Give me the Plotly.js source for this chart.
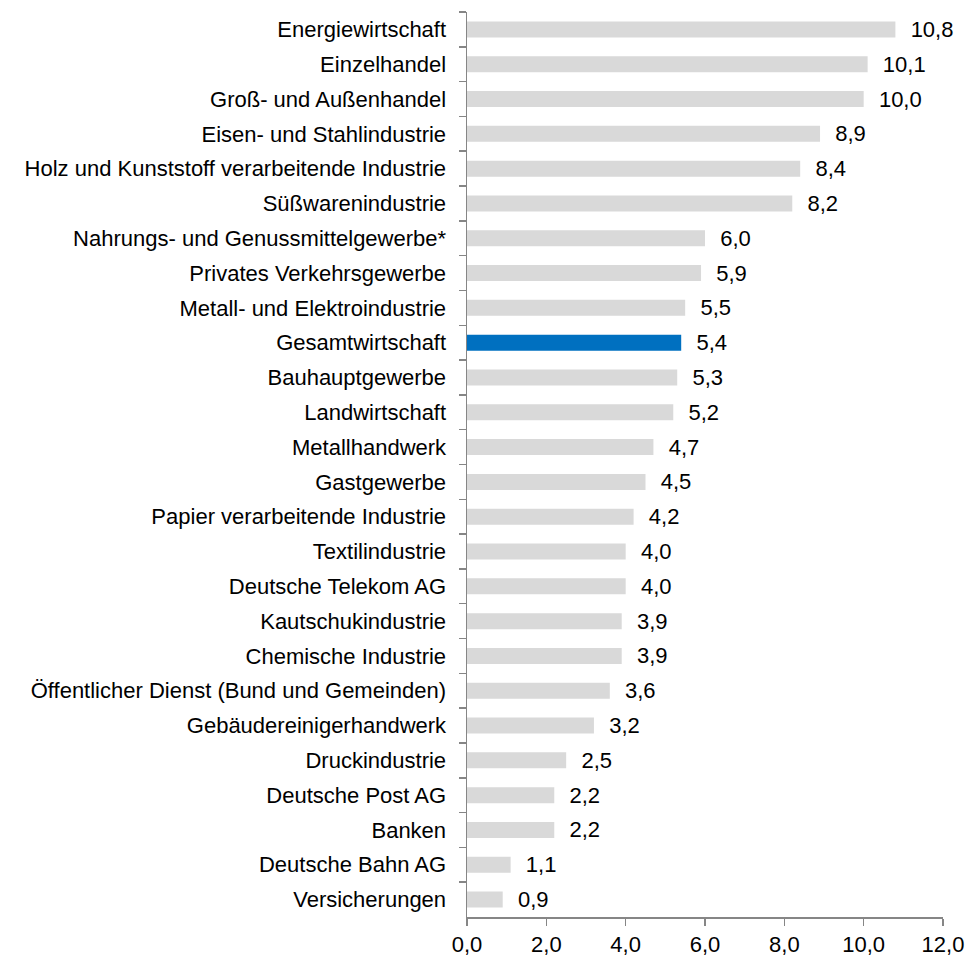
<!DOCTYPE html>
<html>
<head>
<meta charset="utf-8">
<script src="https://cdn.plot.ly/plotly-3.0.1.min.js"></script>
<style>html,body{margin:0;padding:0;background:#fff;}#chart{width:965px;height:963px;}</style>
</head>
<body>
<div id="chart"></div>
<script>
const categories = [
  "Energiewirtschaft","Einzelhandel","Groß- und Außenhandel","Eisen- und Stahlindustrie",
  "Holz und Kunststoff verarbeitende Industrie","Süßwarenindustrie","Nahrungs- und Genussmittelgewerbe*",
  "Privates Verkehrsgewerbe","Metall- und Elektroindustrie","Gesamtwirtschaft","Bauhauptgewerbe",
  "Landwirtschaft","Metallhandwerk","Gastgewerbe","Papier verarbeitende Industrie","Textilindustrie",
  "Deutsche Telekom AG","Kautschukindustrie","Chemische Industrie","Öffentlicher Dienst (Bund und Gemeinden)",
  "Gebäudereinigerhandwerk","Druckindustrie","Deutsche Post AG","Banken","Deutsche Bahn AG","Versicherungen"
];
const values = [10.8,10.1,10.0,8.9,8.4,8.2,6.0,5.9,5.5,5.4,5.3,5.2,4.7,4.5,4.2,4.0,4.0,3.9,3.9,3.6,3.2,2.5,2.2,2.2,1.1,0.9];
const highlight = "Gesamtwirtschaft";
const tickValues = [0,2,4,6,8,10,12];

const colors = categories.map(c => c === highlight ? "#0070c0" : "#d9d9d9");
const FONT = "Liberation Sans Narrow, Arial Narrow, Liberation Sans, Arial, sans-serif";
const FS = 22;

const trace = {
  type: "bar",
  orientation: "h",
  y: categories,
  x: values,
  marker: {color: colors},
  texttemplate: "  %{x:.1f}",
  textposition: "outside",
  constraintext: "none",
  cliponaxis: false,
  textfont: {family: FONT, size: FS, color: "#000"},
  hoverinfo: "none"
};

const layout = {
  width: 965, height: 963,
  margin: {l: 467, r: 22, t: 12, b: 46},
  separators: ",.",
  paper_bgcolor: "#fff", plot_bgcolor: "#fff",
  bargap: 0.54,
  showlegend: false,
  font: {family: FONT, size: FS, color: "#000"},
  xaxis: {
    range: [0, 12], tickvals: tickValues, tickformat: ".1f",
    showgrid: false, zeroline: false, showline: true, linecolor: "#868686", linewidth: 1.5,
    ticks: "outside", ticklen: 7, tickcolor: "#868686", tickwidth: 1.5,
    tickfont: {family: FONT, size: FS, color: "#000"}, fixedrange: true
  },
  yaxis: {
    autorange: "reversed", type: "category",
    showgrid: false, zeroline: false, showline: true, linecolor: "#868686", linewidth: 1.5,
    ticks: "outside", tickson: "boundaries", ticklen: 7, tickcolor: "#868686", tickwidth: 1.5,
    ticklabelstandoff: 15,
    tickfont: {family: FONT, size: FS, color: "#000"}, fixedrange: true
  }
};

Plotly.newPlot("chart", [trace], layout, {staticPlot: true});
</script>
</body>
</html>
